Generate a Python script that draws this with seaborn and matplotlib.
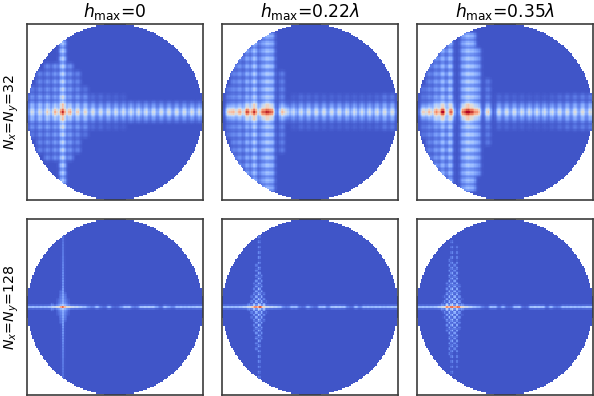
import numpy as np
import matplotlib
matplotlib.use("Agg")
import matplotlib.pyplot as plt
import seaborn as sns

GRID = 132
BOX = 176.0
MID = BOX / 2

TITLES = [r"$h_{\mathrm{max}}$=0", r"$h_{\mathrm{max}}$=0.22$\lambda$", r"$h_{\mathrm{max}}$=0.35$\lambda$"]
ROW_LABELS = [r"$N_x$=$N_y$=32", r"$N_x$=$N_y$=128"]

# N=32 panels: lobes on the centre row, then side rows one and two lobes off it
x_a = [5, 12.8, 20.4, 28, 35.7, 43.2, 50.8, 58.4, 66, 73.6, 81.2, 88.8, 96.4, 104, 111.6, 119.2, 126.8, 134.4, 142, 149.6, 157.2, 164.8, 172.4]
row0_a = [.46, .48, .58, .68, .46, .68, .6, .54, .48, .46, .46, .46, .46, .46, .46, .46, .46, .46, .46, .46, .46, .48, .46]
row1_a = [.1, .1, .1, .05, 0, .05, .08, .12, .14, .12, .13, .12, .11, .12, .11, .11, .11, .1, .1, .1, .1, .1, .1]
row2_a = [.05, .05, .05, 0, 0, 0, .04, .06, .06, .06, .04, .04, .03, 0, 0, 0, 0, 0, 0, 0, 0, 0, 0]

x_b = [6.6, 11.6, 17.6, 25, 32.3, 40, 45, 50, 60, 65, 71.6, 79.2, 86.8, 94.4, 102, 109.6, 117.2, 124.8, 132.4, 140, 147.6, 155.2, 162.8, 170.4]
row0_b = [.56, .6, .68, .58, .5, .7, .58, .72, .62, .38, .42, .46, .46, .46, .46, .46, .46, .46, .46, .46, .46, .48, .48, .48]
row1_b = [0, 0, 0, 0, 0, 0, 0, 0, .04, .04, .1, .12, .12, .12, .12, .12, .12, .12, .12, .12, .12, .14, .16, .16]
row2_b = [0, 0, 0, 0, 0, 0, 0, 0, 0, 0, .03, .06, .05, .05, .04, .04, .04, .04, .04, .04, .04, .05, .09, .09]

x_c = [6.3, 12.3, 19, 25.6, 34, 46, 51, 56, 61, 71, 82, 89.6, 97.2, 104.8, 112.4, 120, 127.6, 135.2, 142.8, 150.4, 158, 165.6, 173.2]
row0_c = [.56, .64, .72, .56, .64, .7, .58, .72, .68, .58, .44, .46, .46, .46, .46, .46, .46, .46, .46, .46, .48, .5, .5]
row1_c = [0, 0, 0, 0, 0, 0, 0, 0, 0, .04, .12, .12, .12, .11, .11, .11, .11, .11, .13, .15, .16, .18, .18]
row2_c = [0, 0, 0, 0, 0, 0, 0, 0, 0, 0, .05, .05, .04, .04, .03, .03, .03, .04, .06, .08, .09, .1, .1]

# N=32 panels: vertical stripes, amplitude and how many lobes they reach
col_x_a = [5, 12.8, 20.4, 28, 35.7, 43.2, 50.8, 58.4]
col_amp_a = [.12, .15, .17, .2, .44, .2, .15, .1]
col_reach_a = [3, 5, 6, 6, 10, 6, 5, 3]
col_x_b = [6.6, 11.6, 17.6, 25, 32.3, 40, 45, 50, 60]
col_amp_b = [.1, .14, .18, .26, .38, .22, .34, .28, .13]
col_reach_b = [3, 6, 8, 9, 10, 10, 10, 10, 5]
col_x_c = [6.3, 12.3, 19, 25.6, 33, 46, 51, 56, 61, 71]
col_amp_c = [.1, .14, .2, .3, .34, .24, .36, .3, .22, .12]
col_reach_c = [3, 6, 8, 9, 10, 10, 10, 10, 8, 4]

# extra hot lobes: x, row offset in lobes, value (offset 0 counts twice)
spot_x_a = [35.7, 35.7, 35.7]
spot_row_a = [0, 1, 2]
spot_amp_a = [.25, .14, .06]
spot_x_b = [32.3, 25, 45, 32.3, 25, 45]
spot_row_b = [0, 0, 0, 1, 1, 1]
spot_amp_b = [.22, .16, .14, .14, .08, .1]
spot_x_c = [25.6, 34, 51, 25.6, 19, 34, 51]
spot_row_c = [0, 0, 0, 1, 1, 1, 1]
spot_amp_c = [.22, .1, .18, .14, .08, .08, .12]

# N=128 panels: thin centre line, sampled every 4 units of the box
x_line = [2, 6, 10, 14, 18, 22, 26, 30, 34, 38, 42, 46, 50, 54, 58, 62, 66, 70, 74, 78, 82, 86, 90, 94, 98, 102, 106, 110, 114, 118, 122, 126, 130, 134, 138, 142, 146, 150, 154, 158, 162, 166, 170, 174]
line_d = [.3, .3, .28, .3, .3, .32, .42, .5, .6, .6, .55, .45, .42, .35, .3, .15, .1, .32, .1, .05, .3, .05, .05, .15, .33, .33, .1, .1, .33, .35, .35, .35, .2, .05, .33, .2, .1, .3, .3, .28, .3, .3, .33, .33]
line_e = [.3, .3, .3, .3, .32, .38, .45, .6, .7, .7, .55, .45, .42, .38, .32, .12, .1, .3, .3, .08, .05, .28, .1, .05, .3, .32, .1, .33, .35, .33, .33, .1, .05, .32, .1, .3, .3, .28, .3, .3, .28, .3, .33, .33]
line_f = [.3, .3, .3, .3, .32, .4, .5, .62, .7, .72, .68, .55, .45, .38, .3, .25, .1, .05, .32, .3, .05, .28, .05, .05, .3, .33, .05, .05, .33, .35, .33, .33, .05, .3, .1, .1, .3, .28, .3, .3, .28, .3, .33, .33]

# N=128 panels: spike columns around the peak
spike_x_d = [25, 31, 33.5, 36, 38.5, 41]
spike_amp_d = [.22, .14, .22, .32, .22, .14]
spike_reach_d = [4, 9, 16, 72, 14, 8]
spike_x_e = [21, 27, 29.5, 32, 34.5, 37, 39.5, 42, 44.5]
spike_amp_e = [.2, .2, .28, .36, .4, .44, .38, .3, .2]
spike_reach_e = [4, 6, 12, 24, 42, 72, 34, 14, 6]
spike_x_f = [19, 25, 27.5, 30, 32.5, 35, 37.5, 40, 42.5, 45]
spike_amp_f = [.2, .2, .28, .36, .4, .44, .44, .42, .34, .2]
spike_reach_f = [4, 6, 12, 24, 50, 66, 46, 64, 22, 8]

peak_x_d = [35.7]
peak_amp_d = [.4]
peak_x_e = [33, 38.5]
peak_amp_e = [.22, .3]
peak_x_f = [30, 35, 41]
peak_amp_f = [.2, .26, .3]

# how much of a stripe is left at 0, 1/3, 2/3 and all of its reach
FADE_32 = [1.0, .94, .86, .72]
FADE_128 = [1.0, .6, .42, .28]


def lobe(Z, gx, gy, x, y, amp, sx, sy):
    Z += amp * np.exp(-((gx - x) / sx) ** 2 / 2 - ((gy - y) / sy) ** 2 / 2)


def fade_at(frac, table):
    return np.interp(frac, [0, 1 / 3, 2 / 3, 1], table)


def field_32(xs, row0, row1, row2, col_x, col_amp, col_reach, spot_x, spot_row, spot_amp):
    c = (np.arange(GRID) + .5) * BOX / GRID
    gx, gy = np.meshgrid(c, c)
    Z = np.full((GRID, GRID), .02)
    dy = 7.6
    for x, a0, a1, a2 in zip(xs, row0, row1, row2):
        lobe(Z, gx, gy, x, MID, a0, 2.2, 3.4)
        for sign in (-1, 1):
            lobe(Z, gx, gy, x, MID + sign * dy, a1, 2.2, 2.2)
            lobe(Z, gx, gy, x, MID + 2 * sign * dy, a2, 2.2, 2.2)
    for x, amp, reach in zip(col_x, col_amp, col_reach):
        for off in range(1, reach + 1):
            for sign in (-1, 1):
                lobe(Z, gx, gy, x, MID + sign * off * dy, amp * fade_at(off / reach, FADE_32), 2.2, 2.2)
    for x, off, amp in zip(spot_x, spot_row, spot_amp):
        for sign in (-1, 1):
            lobe(Z, gx, gy, x, MID + sign * off * dy, amp, 3.0, 3.0)
    return Z


def field_128(line, spike_x, spike_amp, spike_reach, peak_x, peak_amp, stagger):
    c = (np.arange(GRID) + .5) * BOX / GRID
    gx, gy = np.meshgrid(c, c)
    Z = np.full((GRID, GRID), .02)
    dy = 2.6
    for x, a in zip(x_line, line):
        lobe(Z, gx, gy, x, MID, a, 1.7, 1.0)
    for k, (x, amp, reach) in enumerate(zip(spike_x, spike_amp, spike_reach)):
        for off in range(1, int(reach / dy) + 1):
            if stagger and (k + off) % 2:
                continue
            for sign in (-1, 1):
                lobe(Z, gx, gy, x, MID + sign * off * dy, amp * fade_at(off * dy / reach, FADE_128), .85, .95)
    for x, a in zip(peak_x, peak_amp):
        lobe(Z, gx, gy, x, MID, a, 1.3, 1.0)
    return Z


def draw_panel(ax, Z):
    c = ((np.arange(GRID) + .5) / GRID) * 2 - 1
    uu, vv = np.meshgrid(c, c)
    sns.heatmap(Z, mask=uu ** 2 + vv ** 2 > 1, cmap="coolwarm", vmin=0, vmax=1, cbar=False,
                xticklabels=False, yticklabels=False, ax=ax)
    for spine in ax.spines.values():
        spine.set_visible(True)
        spine.set_color("#3c3c3c")
        spine.set_linewidth(1.2)


fields = [
    field_32(x_a, row0_a, row1_a, row2_a, col_x_a, col_amp_a, col_reach_a, spot_x_a, spot_row_a, spot_amp_a),
    field_32(x_b, row0_b, row1_b, row2_b, col_x_b, col_amp_b, col_reach_b, spot_x_b, spot_row_b, spot_amp_b),
    field_32(x_c, row0_c, row1_c, row2_c, col_x_c, col_amp_c, col_reach_c, spot_x_c, spot_row_c, spot_amp_c),
    field_128(line_d, spike_x_d, spike_amp_d, spike_reach_d, peak_x_d, peak_amp_d, False),
    field_128(line_e, spike_x_e, spike_amp_e, spike_reach_e, peak_x_e, peak_amp_e, True),
    field_128(line_f, spike_x_f, spike_amp_f, spike_reach_f, peak_x_f, peak_amp_f, True),
]

W, H = 594, 396
lefts = [27, 222, 417]
tops = [24, 219]

fig = plt.figure(figsize=(W / 100, H / 100), dpi=100)
for r, top in enumerate(tops):
    for c, left in enumerate(lefts):
        ax = fig.add_axes([left / W, 1 - (top + BOX) / H, BOX / W, BOX / H])
        draw_panel(ax, fields[r * 3 + c])
        if r == 0:
            ax.set_title(TITLES[c], fontsize=12.3, pad=5)
        if c == 0:
            ax.set_ylabel(ROW_LABELS[r], fontsize=10.2, labelpad=4)

fig.savefig("out.png", dpi=100)
plt.close(fig)
